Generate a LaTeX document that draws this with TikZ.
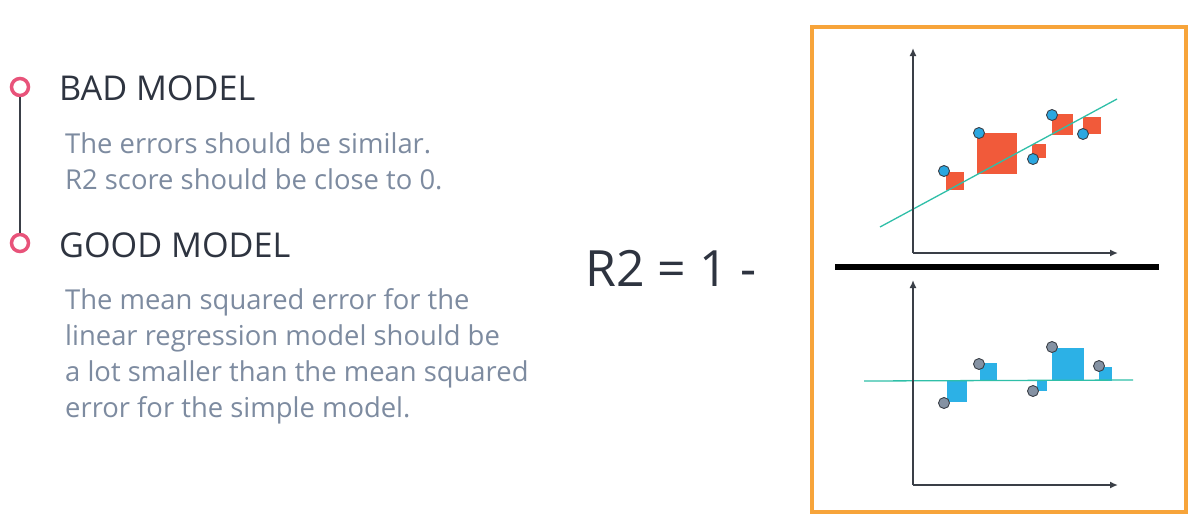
\documentclass[tikz,border=0pt]{standalone}
\usepackage{fontspec}
\setmainfont{Open Sans}
\begin{document}
\begin{tikzpicture}[x=1pt,y=-1pt,
  ax/.style={draw=axc,line width=1.8pt,-{Latex[length=8pt,width=7pt]}},
  head/.style={anchor=west,inner sep=0,font=\fontsize{34.2}{38}\selectfont,text=headc},
  body/.style={anchor=north west,inner sep=0,align=left,font=\fontsize{27.4}{36}\selectfont,text=bodyc},
  dotA/.style={circle,draw=axc,line width=0.9pt,fill=dotb,minimum size=11pt,inner sep=0},
  dotB/.style={circle,draw=axc,line width=0.9pt,fill=dotg,minimum size=11pt,inner sep=0},
  sqA/.style={fill=sqr},
  sqB/.style={fill=sqb},
  ring/.style={circle,draw=pinkc,line width=3.5pt,minimum size=17pt,inner sep=0}]
\usetikzlibrary{arrows.meta}
\definecolor{axc}{HTML}{3A3F47}
\definecolor{headc}{HTML}{2E3440}
\definecolor{bodyc}{HTML}{7D8BA0}
\definecolor{pinkc}{HTML}{E8537A}
\definecolor{orangec}{HTML}{F7A43A}
\definecolor{linec}{HTML}{2FBFA8}
\definecolor{dotb}{HTML}{2BA7E0}
\definecolor{dotg}{HTML}{8592A3}
\definecolor{sqr}{HTML}{F15A3A}
\definecolor{sqb}{HTML}{2CB1E6}
\useasboundingbox[fill=white] (0,0) rectangle (1200,523);
% timeline
\node[ring] (r1) at (20,87) {};
\node[ring] (r2) at (20,243) {};
\draw[axc,line width=1.5pt] (r1) -- (r2);
\node[head] (h1) at (59,88) {BAD MODEL};
\node[body] (b1) at (65,132) {The errors should be similar.\\R2 score should be close to 0.};
\node[head] (h2) at (59,245) {GOOD MODEL};
\node[body] (b2) at (65,288) {The mean squared error for the\\linear regression model should be\\a lot smaller than the mean squared\\error for the simple model.};
\node[anchor=west,inner sep=0,font=\fontsize{50}{54}\selectfont,text=headc] (eq) at (585,268) {R2 = 1 -};
% frame
\draw[orangec,line width=4pt] (812,27) rectangle (1186,512);
\draw[black,line width=6pt] (835,267) -- (1159,267);
% top plot
\coordinate (o1) at (913,253);
\coordinate (y1) at (913,48);
\coordinate (x1) at (1118,253);
\foreach \a/\b/\c/\d in {946/172/964/190,977/133/1017/174,1032/144/1046/158,1052/114/1073/135,1083/117/1101/134}
  \fill[sqA] (\a,\b) rectangle (\c,\d);
\coordinate (l1) at (880,227);
\coordinate (l2) at (1117,99);
\draw[linec,line width=1.3pt] (l1) -- (l2);
\draw[ax] (o1) -- (y1);
\draw[ax] (o1) -- (x1);
\foreach \p/\q [count=\i] in {944/171,979/133,1033/159,1052/115,1083/134}
  \node[dotA] (pa\i) at (\p,\q) {};
% bottom plot
\coordinate (o2) at (913,485);
\coordinate (y2) at (913,280);
\coordinate (x2) at (1118,485);
\foreach \a/\b/\c/\d in {947/381/967/402,980/363/997/381,1037/381/1047/391,1052/348/1084/381,1099/367/1112/381}
  \fill[sqB] (\a,\b) rectangle (\c,\d);
\coordinate (m1) at (864,381);
\coordinate (m2) at (1133,380);
\draw[linec,line width=1.3pt] (m1) -- (m2);
\draw[ax] (o2) -- (y2);
\draw[ax] (o2) -- (x2);
\foreach \p/\q [count=\i] in {944/403,979/364,1033/391,1052/347,1099/366}
  \node[dotB] (pb\i) at (\p,\q) {};
\end{tikzpicture}
\end{document}
